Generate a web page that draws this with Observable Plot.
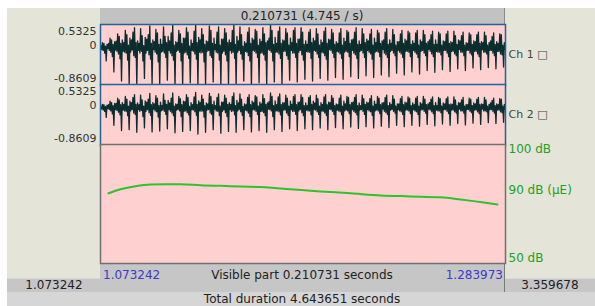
<!DOCTYPE html>
<html>
<head>
<meta charset="utf-8">
<script src="https://cdn.jsdelivr.net/npm/d3@7"></script>
<script src="https://cdn.jsdelivr.net/npm/@observablehq/plot@0.6"></script>
<style>
  html, body { margin: 0; padding: 0; background: #ffffff; }
  #win { position: relative; width: 595px; height: 306px; overflow: hidden; font-family: "DejaVu Sans", Verdana, sans-serif; }
  .box { position: absolute; }
  .txt { position: absolute; white-space: nowrap; font-size: 12px; line-height: 14px; color: #222; }
  .panel { position: absolute; left: 0; }
</style>
</head>
<body>
<div id="win">
  <div class="box" style="left:7px;top:8px;width:93px;height:270px;background:#e4e4d8;"></div>
  <div class="box" style="left:505px;top:8px;width:90px;height:270px;background:#e4e4d8;"></div>
  <div class="box" style="left:100px;top:8px;width:405px;height:16px;background:#c2c2c2;border-right:1px solid #8a8a8a;box-sizing:border-box;"></div>
  <div class="box" style="left:100px;top:263px;width:405px;height:29px;background:#c6c6c6;border-right:1px solid #7a7a7a;box-sizing:border-box;"></div>
  <div class="box" style="left:7px;top:278px;width:93px;height:14px;background:#c6c6c6;border-top:1px solid #d8d8d8;box-sizing:border-box;"></div>
  <div class="box" style="left:505px;top:278px;width:90px;height:14px;background:#c6c6c6;border-top:1px solid #d8d8d8;box-sizing:border-box;"></div>
  <div class="box" style="left:7px;top:292px;width:588px;height:14px;background:#d6d6d6;"></div>
  <div id="p1" class="panel" style="top:24px;"></div>
  <div id="p2" class="panel" style="top:84px;"></div>
  <div id="p3" class="panel" style="top:144px;"></div>
  <div id="texts"></div>
</div>
<script>
// ---- data ----
const tStart = 1.073242;
const tEnd = 1.283973;
const visibleDuration = 0.210731;
const totalDuration = 4.643651;
const windowStart = 1.073242;
const windowEnd = 3.359678;
const ampTicks = [0.5325, 0, -0.8609];
const channelNames = ["Ch 1", "Ch 2"];
const intensityTicks = ["100 dB", "90 dB (\u03bcE)", "50 dB"];
const intensityDomain = [50, 100];

// waveform samples, channel 1 (evenly spaced over the visible part)
const ch1 = [
.05,-.04,.12,-.06,.10,-.12,.04,-.30,.08,-.02, .10,-.06,.22,-.10,.18,-.20,.08,-.55,.14,-.05,
.15,-.08,.32,-.14,.26,-.25,.10,-.76,.18,-.08, .12,-.10,.40,-.12,.30,-.28,.06,-.82,.22,-.10,
.18,-.05,.36,-.18,.46,-.22,.12,-.86,.16,-.06, .10,-.12,.44,-.08,.28,-.30,.05,-.70,.24,-.12,
.20,-.06,.30,-.16,.50,-.26,.10,-.84,.18,-.04, .14,-.10,.42,-.14,.34,-.32,.08,-.86,.20,-.10,
.08,-.08,.48,-.12,.26,-.22,.12,-.74,.26,-.06, .16,-.12,.34,-.18,.52,-.28,.06,-.85,.14,-.08,
.12,-.06,.40,-.10,.32,-.30,.10,-.86,.22,-.12, .22,-.10,.46,-.16,.36,-.24,.04,-.80,.18,-.06,
.10,-.08,.38,-.14,.53,-.26,.12,-.86,.24,-.10, .18,-.12,.44,-.10,.30,-.32,.08,-.84,.16,-.08,
.14,-.06,.50,-.18,.40,-.22,.10,-.78,.22,-.04, .08,-.10,.36,-.12,.48,-.28,.06,-.86,.20,-.12,
.20,-.08,.44,-.16,.34,-.30,.12,-.82,.18,-.06, .12,-.12,.40,-.10,.52,-.24,.08,-.86,.26,-.10,
.16,-.06,.48,-.14,.30,-.26,.04,-.76,.14,-.08, .10,-.10,.36,-.18,.46,-.30,.10,-.85,.22,-.06,
.18,-.08,.42,-.12,.38,-.22,.06,-.80,.20,-.12, .14,-.12,.46,-.16,.32,-.28,.12,-.86,.16,-.04,
.22,-.06,.52,-.10,.40,-.30,.08,-.78,.24,-.10, .10,-.10,.38,-.14,.48,-.24,.10,-.84,.18,-.08,
.16,-.08,.44,-.18,.34,-.26,.06,-.74,.22,-.06, .12,-.12,.40,-.12,.46,-.22,.10,-.78,.20,-.10,
.20,-.06,.46,-.16,.36,-.28,.08,-.72,.16,-.08, .08,-.10,.36,-.10,.42,-.24,.12,-.76,.22,-.06,
.16,-.08,.44,-.14,.32,-.22,.06,-.70,.18,-.10, .12,-.12,.38,-.18,.46,-.26,.10,-.74,.20,-.04,
.18,-.06,.42,-.12,.34,-.22,.08,-.68,.14,-.08, .10,-.10,.34,-.14,.44,-.24,.06,-.72,.22,-.10,
.14,-.08,.40,-.10,.36,-.20,.10,-.66,.18,-.06, .20,-.12,.36,-.16,.46,-.24,.08,-.70,.16,-.08,
.08,-.06,.44,-.12,.32,-.22,.12,-.64,.20,-.06, .16,-.10,.32,-.14,.42,-.26,.06,-.68,.22,-.10,
.12,-.08,.40,-.10,.34,-.20,.10,-.62,.16,-.04, .18,-.12,.36,-.16,.44,-.22,.08,-.66,.18,-.08,
.10,-.06,.42,-.12,.30,-.18,.06,-.58,.14,-.06, .14,-.10,.32,-.14,.40,-.22,.10,-.62,.20,-.08,
.16,-.08,.38,-.10,.34,-.20,.08,-.55,.16,-.06, .10,-.10,.34,-.14,.40,-.22,.06,-.60,.18,-.08,
.14,-.06,.40,-.12,.30,-.18,.10,-.52,.14,-.04, .18,-.08,.30,-.14,.38,-.20,.08,-.56,.18,-.08,
.08,-.10,.36,-.10,.32,-.16,.06,-.50,.16,-.06, .14,-.06,.32,-.12,.38,-.20,.10,-.54,.14,-.08,
.12,-.08,.38,-.14,.28,-.18,.08,-.48,.18,-.04, .16,-.10,.28,-.10,.36,-.18,.06,-.52,.12,-.06,
.10,-.06,.34,-.12,.30,-.16,.08,-.46,.16,-.08, .14,-.08,.30,-.14,.36,-.20,.10,-.50,.14,-.04,
.12,-.10,.36,-.10,.28,-.14,.06,-.45,.12,-.06, .16,-.06,.26,-.12,.34,-.18,.08,-.48,.14,-.08,
.10,-.08,.32,-.14,.30,-.16,.06,-.44,.12,-.04
];
// waveform samples, channel 2
const ch2 = [
.04,-.03,.08,-.05,.07,-.08,.03,-.22,.06,-.02, .07,-.04,.15,-.07,.12,-.14,.05,-.40,.10,-.04,
.10,-.06,.22,-.10,.18,-.16,.07,-.52,.12,-.05, .08,-.07,.26,-.08,.20,-.18,.04,-.50,.15,-.07,
.12,-.04,.24,-.12,.30,-.15,.08,-.56,.11,-.04, .07,-.08,.29,-.06,.18,-.20,.04,-.46,.16,-.08,
.13,-.04,.20,-.11,.33,-.17,.07,-.55,.12,-.03, .09,-.07,.28,-.09,.22,-.21,.05,-.53,.13,-.07,
.05,-.05,.32,-.08,.17,-.15,.08,-.48,.17,-.04, .11,-.08,.22,-.12,.34,-.18,.04,-.57,.09,-.05,
.08,-.04,.26,-.07,.21,-.20,.07,-.54,.15,-.08, .14,-.07,.30,-.11,.24,-.16,.03,-.52,.12,-.04,
.07,-.05,.25,-.09,.35,-.17,.08,-.60,.16,-.07, .12,-.08,.29,-.07,.20,-.21,.05,-.56,.11,-.05,
.09,-.04,.33,-.12,.26,-.15,.07,-.50,.15,-.03, .05,-.07,.24,-.08,.32,-.18,.04,-.58,.13,-.08,
.13,-.05,.29,-.11,.22,-.20,.08,-.54,.12,-.04, .08,-.08,.26,-.07,.34,-.16,.05,-.56,.17,-.07,
.11,-.04,.32,-.09,.20,-.17,.03,-.50,.09,-.05, .07,-.07,.24,-.12,.30,-.20,.07,-.55,.15,-.04,
.12,-.05,.28,-.08,.25,-.15,.04,-.52,.13,-.08, .09,-.08,.30,-.11,.21,-.18,.08,-.56,.11,-.03,
.14,-.04,.34,-.07,.26,-.20,.05,-.50,.16,-.07, .07,-.07,.25,-.09,.32,-.16,.07,-.54,.12,-.05,
.11,-.05,.29,-.12,.22,-.17,.04,-.48,.15,-.04, .08,-.08,.26,-.08,.30,-.15,.07,-.52,.13,-.07,
.13,-.04,.30,-.11,.24,-.18,.05,-.48,.11,-.05, .05,-.07,.24,-.07,.28,-.16,.08,-.50,.15,-.04,
.11,-.05,.29,-.09,.21,-.15,.04,-.46,.12,-.07, .08,-.08,.25,-.12,.30,-.17,.07,-.50,.13,-.03,
.12,-.04,.28,-.08,.22,-.15,.05,-.45,.09,-.05, .07,-.07,.22,-.09,.29,-.16,.04,-.48,.15,-.07,
.09,-.05,.26,-.07,.24,-.13,.07,-.44,.12,-.04, .13,-.08,.24,-.11,.30,-.16,.05,-.47,.11,-.05,
.05,-.04,.29,-.08,.21,-.15,.08,-.43,.13,-.04, .11,-.07,.21,-.09,.28,-.17,.04,-.46,.15,-.07,
.08,-.05,.26,-.07,.22,-.13,.07,-.42,.11,-.03, .12,-.08,.24,-.11,.29,-.15,.05,-.45,.12,-.05,
.07,-.04,.28,-.08,.20,-.12,.04,-.40,.09,-.04, .09,-.07,.21,-.09,.26,-.15,.07,-.43,.13,-.05,
.11,-.05,.25,-.07,.22,-.13,.05,-.40,.11,-.04, .07,-.07,.22,-.09,.26,-.15,.04,-.42,.12,-.05,
.09,-.04,.26,-.08,.20,-.12,.07,-.38,.09,-.03, .12,-.05,.20,-.09,.25,-.13,.05,-.41,.12,-.05,
.05,-.07,.24,-.07,.21,-.11,.04,-.37,.11,-.04, .09,-.04,.21,-.08,.25,-.13,.07,-.40,.09,-.05,
.08,-.05,.25,-.09,.18,-.12,.05,-.36,.12,-.03, .11,-.07,.18,-.07,.24,-.12,.04,-.39,.08,-.04,
.07,-.04,.22,-.08,.20,-.11,.05,-.35,.11,-.05, .09,-.05,.20,-.09,.24,-.13,.07,-.38,.09,-.03,
.08,-.07,.24,-.07,.18,-.09,.04,-.34,.08,-.04, .11,-.04,.17,-.08,.22,-.12,.05,-.36,.09,-.05,
.07,-.05,.21,-.09,.20,-.11,.04,-.33,.08,-.03
];

// intensity contour (seconds, dB)
const intensityTime = [1.07740,1.08365,1.09145,1.09926,1.10706,1.11487,1.12527,1.14088,1.15649,1.17210,1.18771,1.20332,1.21893,1.23454,1.25015,1.26056,1.26836,1.27617,1.27981];
const intensityDb   = [79.5,81.2,82.5,83.2,83.3,83.3,82.9,82.5,82.1,81.2,80.3,79.5,78.6,78.2,77.8,76.9,76.1,75.2,74.8];
const intensityLabelDb = 80.8;

// ---- build ----
const W = 595, ML = 100, MR = 90;
const font = "'DejaVu Sans', Verdana, sans-serif";
const sampleTime = (arr) => arr.map((v, i) => ({t: tStart + (i + 0.5) * (tEnd - tStart) / arr.length, v}));

function wavePanel(samples, name) {
  return Plot.plot({
    width: W, height: 61, marginLeft: ML, marginRight: MR, marginTop: 0, marginBottom: 0,
    x: {domain: [tStart, tEnd], axis: null},
    y: {domain: [ampTicks[2], ampTicks[0]], axis: null},
    style: {background: "transparent", fontFamily: font, fontSize: "12px", overflow: "visible"},
    marks: [
      Plot.frame({fill: "#ffd0d0", stroke: null}),
      Plot.line(sampleTime(samples), {x: "t", y: "v", stroke: "#0b2d2d", strokeWidth: 1.3, clip: true}),
      Plot.frame({stroke: "#1f639a", strokeWidth: 1.5}),
      Plot.text([ampTicks[0]], {y: d => d, text: d => String(d), frameAnchor: "left", dx: -4, textAnchor: "end", lineAnchor: "top", dy: 3, fill: "#333", fontSize: 11}),
      Plot.text([ampTicks[1]], {y: d => d, text: d => String(d), frameAnchor: "left", dx: -4, textAnchor: "end", lineAnchor: "middle", dy: -2, fill: "#333", fontSize: 11}),
      Plot.text([ampTicks[2]], {y: d => d, text: d => String(d), frameAnchor: "left", dx: -4, textAnchor: "end", lineAnchor: "bottom", dy: -4, fill: "#333", fontSize: 11}),
      Plot.text([name + " \u25a1"], {text: d => d, frameAnchor: "right", dx: 3, dy: -1, textAnchor: "start", fill: "#444", fontSize: 11})
    ]
  });
}

document.getElementById("p1").append(wavePanel(ch1, channelNames[0]));
document.getElementById("p2").append(wavePanel(ch2, channelNames[1]));

const intensity = intensityTime.map((t, i) => ({t, db: intensityDb[i]}));
document.getElementById("p3").append(Plot.plot({
  width: W, height: 119, marginLeft: ML, marginRight: MR, marginTop: 0, marginBottom: 0,
  x: {domain: [tStart, tEnd], axis: null},
  y: {domain: intensityDomain, axis: null},
  style: {background: "transparent", fontFamily: font, fontSize: "12px", overflow: "visible"},
  marks: [
    Plot.frame({fill: "#ffd0d0", stroke: null}),
    Plot.line(intensity, {x: "t", y: "db", stroke: "#2ec22e", strokeWidth: 2, curve: "monotone-x"}),
    Plot.frame({stroke: "#707070", strokeWidth: 1.5}),
    Plot.text([intensityTicks[0]], {y: intensityDomain[1], text: d => d, frameAnchor: "right", dx: 3, textAnchor: "start", lineAnchor: "top", dy: 0, fill: "#22a022"}),
    Plot.text([intensityTicks[1]], {y: intensityLabelDb, text: d => d, frameAnchor: "right", dx: 3, textAnchor: "start", lineAnchor: "middle", fill: "#22a022"}),
    Plot.text([intensityTicks[2]], {y: intensityDomain[0], text: d => d, frameAnchor: "right", dx: 3, textAnchor: "start", lineAnchor: "bottom", dy: -2, fill: "#22a022"})
  ]
}));

// ---- window texts ----
const fmt = (v) => v.toFixed(6);
const texts = [
  {s: `${fmt(visibleDuration)} (${(1 / visibleDuration).toFixed(3)} / s)`, x: 302, y: 9, a: "c", c: "#222"},
  {s: fmt(tStart), x: 103, y: 268, a: "l", c: "#3a3acc"},
  {s: `Visible part ${fmt(visibleDuration)} seconds`, x: 302, y: 268, a: "c", c: "#222"},
  {s: fmt(tEnd), x: 503, y: 268, a: "r", c: "#3a3acc"},
  {s: fmt(windowStart), x: 54, y: 278, a: "c", c: "#222"},
  {s: fmt(windowEnd), x: 550, y: 278, a: "c", c: "#222"},
  {s: `Total duration ${fmt(totalDuration)} seconds`, x: 302, y: 292, a: "c", c: "#222"}
];
const host = document.getElementById("texts");
for (const t of texts) {
  const d = document.createElement("div");
  d.className = "txt";
  d.textContent = t.s;
  d.style.top = t.y + "px";
  d.style.color = t.c;
  if (t.a === "c") { d.style.left = t.x + "px"; d.style.transform = "translateX(-50%)"; }
  else if (t.a === "l") { d.style.left = t.x + "px"; }
  else { d.style.right = (595 - t.x) + "px"; }
  host.append(d);
}
</script>
</body>
</html>
